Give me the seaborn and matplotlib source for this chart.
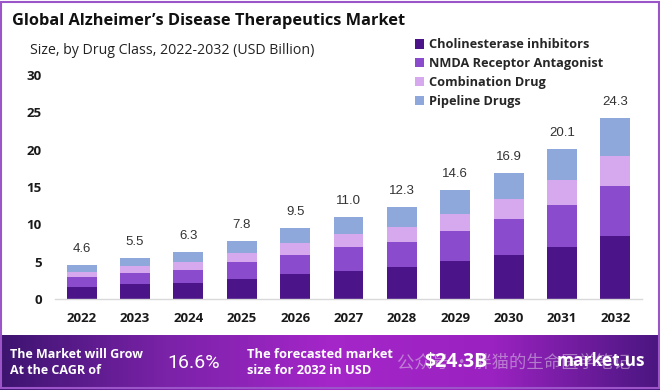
import numpy as np
import pandas as pd
import matplotlib
matplotlib.use("Agg")
import matplotlib.pyplot as plt
import seaborn as sns
from matplotlib.patches import Patch, Rectangle
from matplotlib.colors import LinearSegmentedColormap

years = ["2022", "2023", "2024", "2025", "2026", "2027", "2028", "2029", "2030", "2031", "2032"]
cholinesterase = [1.6, 2.0, 2.2, 2.7, 3.35, 3.8, 4.3, 5.05, 5.9, 7.0, 8.5]
nmda = [1.3, 1.45, 1.75, 2.25, 2.6, 3.1, 3.4, 4.1, 4.75, 5.6, 6.7]
combination = [0.7, 0.95, 1.05, 1.15, 1.55, 1.8, 2.0, 2.3, 2.7, 3.3, 3.9]
pipeline = [1.0, 1.1, 1.3, 1.7, 2.0, 2.3, 2.6, 3.15, 3.55, 4.2, 5.2]
totals = [4.6, 5.5, 6.3, 7.8, 9.5, 11.0, 12.3, 14.6, 16.9, 20.1, 24.3]

series = ["Cholinesterase inhibitors", "NMDA Receptor Antagonist", "Combination Drug", "Pipeline Drugs"]
colors = ["#4b1488", "#8a4ccc", "#d6a8ee", "#8ea8dc"]

sns.set_style("white")
plt.rcParams["font.family"] = ["Open Sans", "Noto Sans CJK SC", "DejaVu Sans"]

df = pd.DataFrame({"year": years, series[0]: cholinesterase, series[1]: nmda,
                   series[2]: combination, series[3]: pipeline})
cum = df[series].cumsum(axis=1)

fig = plt.figure(figsize=(6.6, 3.9), dpi=100)
ax = fig.add_axes([55 / 660, 1 - 299 / 390, 587 / 660, 224 / 390])

# stacked bars: draw tallest cumulative first, overlay the rest
for name, col in reversed(list(zip(series, colors))):
    sns.barplot(x=df["year"], y=cum[name], color=col, width=0.56, ax=ax,
                saturation=1, edgecolor="none")

for i, t in enumerate(totals):
    ax.text(i, t + 1.3, f"{t:.1f}", ha="center", va="bottom", fontsize=9.5, color="#333333",
            family=["Liberation Sans", "DejaVu Sans"])

ax.set_ylim(0, 30)
ax.set_xlim(-0.5, 10.5)
ax.set_yticks([0, 5, 10, 15, 20, 25, 30])
ax.set_xlabel("")
ax.set_ylabel("")
ax.tick_params(axis="both", length=0, labelsize=9.5, colors="#1a1a1a")
ax.tick_params(axis="y", pad=9.5)
ax.tick_params(axis="x", pad=9)
for lab in ax.get_xticklabels() + ax.get_yticklabels():
    lab.set_fontweight("bold")
for s in ["top", "right", "left"]:
    ax.spines[s].set_visible(False)
ax.spines["bottom"].set_color("#d9d9d9")
ax.spines["bottom"].set_linewidth(1)

fig.text(12 / 660, 1 - 21 / 390, "Global Alzheimer\u2019s Disease Therapeutics Market",
         fontsize=11.8, fontweight="bold", color="#111111", va="center")
fig.text(30 / 660, 1 - 50 / 390, "Size, by Drug Class, 2022-2032 (USD Billion)",
         fontsize=10.2, color="#222222", va="center")

handles = [Patch(facecolor=c, edgecolor="none") for c in colors]
leg = fig.legend(handles, series, loc="upper left", bbox_to_anchor=(403 / 660, 1 - 27 / 390),
                 frameon=False, handlelength=0.75, handleheight=0.75, handletextpad=0.35,
                 labelspacing=0.45, prop={"weight": "bold", "size": 9.2})

# bottom banner
bax = fig.add_axes([0, 0, 1, 55 / 390])
cmap = LinearSegmentedColormap.from_list(
    "banner", ["#3d1470", "#7a22a8", "#a526c9", "#9a22c0", "#4a1680"])
bax.imshow(np.linspace(0, 1, 256)[None, :], aspect="auto", cmap=cmap, extent=[0, 1, 0, 1])
bax.set_axis_off()
bax.text(10 / 660, 0.5, "The Market will Grow\nAt the CAGR of", color="white", fontsize=9,
         fontweight="bold", va="center", linespacing=1.2)
bax.text(167 / 660, 0.5, "16.6%", color="white", fontsize=14, va="center",
         family=["Roboto", "DejaVu Sans"])
bax.text(247 / 660, 0.5, "The forecasted market\nsize for 2032 in USD", color="white", fontsize=9.3,
         fontweight="bold", va="center", linespacing=1.2)
bax.text(397 / 660, 0.5, "公众号 · 胖猫的生命医学笔记", color="#d8c8e0", alpha=0.55, fontsize=12.5,
         va="center", family=["Noto Sans CJK SC", "DejaVu Sans"], zorder=1)
bax.text(424 / 660, 0.5, "$24.3B", color="white", fontsize=14, fontweight="bold", va="center",
         zorder=2)
bax.text(557 / 660, 0.52, "market.us", color="white", fontsize=12.5, fontweight="bold",
         va="center", zorder=2)

fig.patches.append(Rectangle((0.002, 0.005), 0.996, 0.99, transform=fig.transFigure,
                             fill=False, edgecolor="#9b55c9", linewidth=1.5))

fig.savefig("out.png", dpi=100)
